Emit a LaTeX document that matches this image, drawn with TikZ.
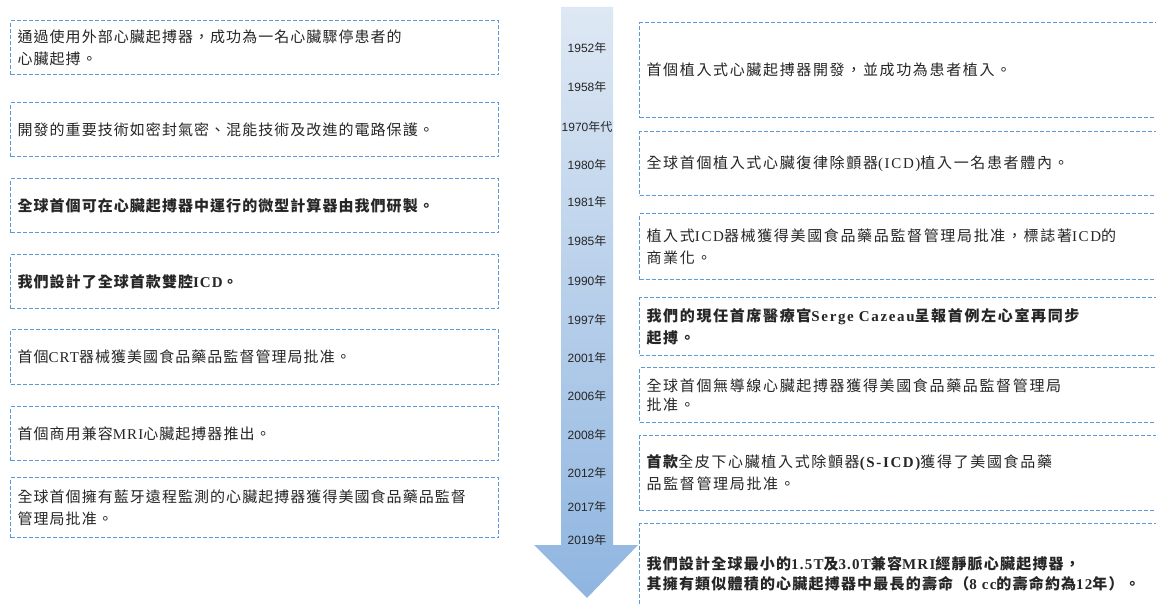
\documentclass[tikz,border=0pt]{standalone}
\usepackage{fontspec}
\setmainfont{Liberation Serif}
\newfontfamily\zhL{Noto Sans CJK TC}[LetterSpace=7]
\newfontfamily\zhR{Noto Sans CJK TC}[LetterSpace=11]
\newfontfamily\zhS{Noto Sans CJK TC}[LetterSpace=8]
\newfontfamily\enL{Liberation Serif}[LetterSpace=7]
\newfontfamily\enR{Liberation Serif}[LetterSpace=11]
\newfontfamily\enS{Liberation Serif}[LetterSpace=8]
\newfontfamily\zhy{Noto Sans CJK TC}
\newfontfamily\yr{Liberation Sans}
\let\zhcur\zhL
\newcommand\zht[1]{{\zhcur #1}}
\definecolor{boxblue}{HTML}{5B9BD5}
\definecolor{txt}{HTML}{262626}
\definecolor{arrtop}{HTML}{DEE8F4}
\definecolor{arrbot}{HTML}{8FB5E0}
\tikzset{
  evbox/.style={draw=boxblue, dash pattern=on 4pt off 2pt, line width=1.2pt,
    rectangle, anchor=north west, inner xsep=7pt, inner ysep=0pt,
    align=left, text=txt, font=\fontsize{15}{22}\selectfont},
  boldtxt/.style={font=\fontsize{15}{22}\selectfont\bfseries},
  lbox/.style={evbox, text width=474pt, execute at begin node={\enL\let\zhcur\zhL}},
  rbox/.style={evbox, text width=546pt, execute at begin node={\enR\let\zhcur\zhR}},
  yearlbl/.style={font=\fontsize{12}{14}\selectfont, text=txt, inner sep=0pt}
}
\begin{document}
\begin{tikzpicture}[x=1pt,y=-1pt]
\useasboundingbox (0,0) rectangle (1156,604);
\clip (0,0) rectangle (1156,604);
\fill[white] (0,0) rectangle (1156,604);
% arrow
\shade[top color=arrtop, bottom color=arrbot]
  (561,7) -- (613,7) -- (613,545) -- (638,545) -- (587,598) -- (534,545) -- (561,545) -- cycle;
% years
\foreach \n/\y/\t in {y1/48/1952, y2/87/1958, y4/165/1980, y5/202/1981, y6/241/1985,
  y7/281/1990, y8/320/1997, y9/358/2001, y10/396/2006, y11/435/2008, y12/473/2012,
  y13/507/2017, y14/540/2019}
  \node[yearlbl] (\n) at (587,\y) {{\yr\t}{\zhy 年}};
\node[yearlbl] (y3) at (587,127) {{\yr 1970}{\zhy 年代}};
% left boxes
\node[lbox, minimum height=54pt] (l1) at (10,20)
  {\zht{通過使用外部心臟起搏器，成功為一名心臟驟停患者的}\\\zht{心臟起搏。}};
\node[lbox, minimum height=54pt] (l2) at (10,102)
  {\zht{開發的重要技術如密封氣密、混能技術及改進的電路保護。}};
\node[lbox, boldtxt, minimum height=54pt] (l3) at (10,178)
  {\zht{全球首個可在心臟起搏器中運行的微型計算器由我們研製。}};
\node[lbox, boldtxt, minimum height=54pt] (l4) at (10,254)
  {\zht{我們設計了全球首款雙腔}ICD\zht{。}};
\node[lbox, minimum height=55pt] (l5) at (10,329)
  {\zht{首個}CRT\zht{器械獲美國食品藥品監督管理局批准。}};
\node[lbox, minimum height=54pt] (l6) at (10,406)
  {\zht{首個商用兼容}MRI\zht{心臟起搏器推出。}};
\node[lbox, minimum height=60pt] (l7) at (10,477)
  {\zht{全球首個擁有藍牙遠程監測的心臟起搏器獲得美國食品藥品監督}\\\zht{管理局批准。}};
% right boxes
\node[rbox, minimum height=95pt] (r1) at (639,22)
  {\zht{首個植入式心臟起搏器開發，並成功為患者植入。}};
\node[rbox, minimum height=64pt] (r2) at (639,131)
  {\zht{全球首個植入式心臟復律除顫器}(ICD)\zht{植入一名患者體內。}};
\node[rbox, minimum height=66pt] (r3) at (639,213)
  {\zht{植入式}ICD\zht{器械獲得美國食品藥品監督管理局批准，標誌著}ICD\zht{的}\\\zht{商業化。}};
\node[rbox, boldtxt, minimum height=58pt] (r4) at (639,297)
  {\zht{我們的現任首席醫療官}Serge Cazeau\zht{呈報首例左心室再同步}\\\zht{起搏。}};
\node[rbox, minimum height=55pt, font=\fontsize{15}{19}\selectfont] (r5) at (639,367)
  {\zht{全球首個無導線心臟起搏器獲得美國食品藥品監督管理局}\\\zht{批准。}};
\node[rbox, minimum height=75pt] (r6) at (639,435)
  {{\bfseries\zht{首款}}\zht{全皮下心臟植入式除顫器}{\bfseries(S-ICD)}\zht{獲得了美國食品藥}\\\zht{品監督管理局批准。}};
\node[rbox, minimum height=100pt, font=\fontsize{15}{20}\selectfont\bfseries,
  execute at begin node={\enS\let\zhcur\zhS}] (r7) at (639,523)
  {\zht{我們設計全球最小的}1.5T\zht{及}3.0T\zht{兼容}MRI\zht{經靜脈心臟起搏器，}\\\zht{其擁有類似體積的心臟起搏器中最長的壽命（}8 cc\zht{的壽命約為}12\zht{年）。}\\[18pt]};
\end{tikzpicture}
\end{document}
